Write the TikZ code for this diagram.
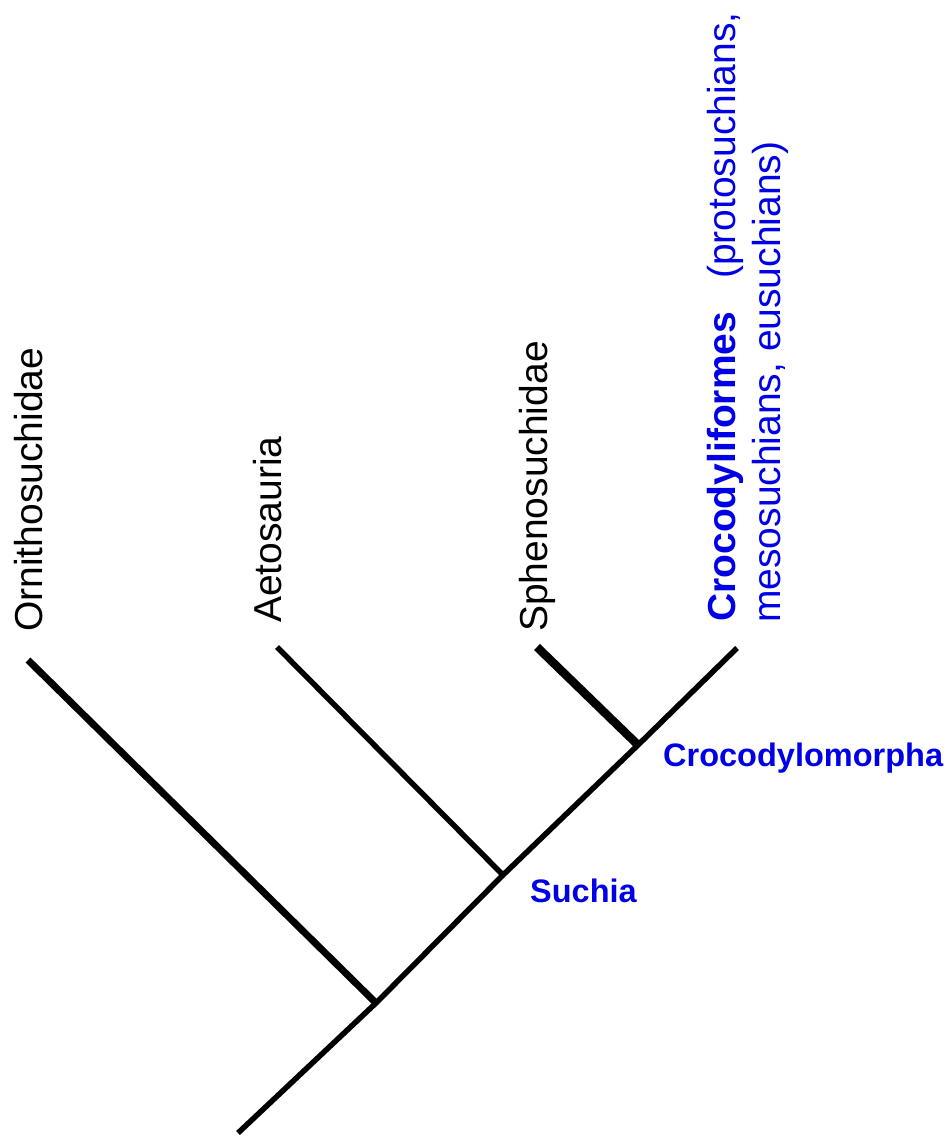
\documentclass[tikz,border=0pt]{standalone}
\usepackage{fontspec}
\setmainfont{Liberation Sans}
\definecolor{cladeblue}{RGB}{0,0,230}
\begin{document}
\begin{tikzpicture}[x=1pt,y=-1pt,
  branch/.style={line width=5.5pt,black},
  thickbranch/.style={line width=7pt,black},
  taxon/.style={rotate=90,anchor=base west,inner sep=0pt,font=\fontsize{39}{45}\selectfont},
  crown/.style={taxon,text=cladeblue},
  clade/.style={anchor=base west,inner sep=0pt,text=cladeblue,font=\fontsize{32.5}{38}\selectfont\bfseries}]
\useasboundingbox (0,0) rectangle (946,1144);
% nodes of the tree
\coordinate (root) at (238,1133);
\coordinate (n1) at (376,1003);
\coordinate (n2) at (503,875);
\coordinate (n3) at (638,745);
\coordinate (tOrn) at (28,660);
\coordinate (tAet) at (277,647);
\coordinate (tSph) at (537,647);
\coordinate (tCro) at (737,648);
% branches
\draw[branch] (root) -- (n1) -- (n2) -- (n3) -- (tCro);
\draw[thickbranch] (tOrn) -- (n1);
\draw[branch] (tAet) -- (n2);
\draw[line width=8.5pt] (tSph) -- (n3);
% taxon labels
\node[taxon] (lOrn) at (42,632) {Ornithosuchidae};
\node[taxon] (lAet) at (281,623) {Aetosauria};
\node[taxon] (lSph) at (547,632) {Sphenosuchidae};
\node[crown] (lCro1) at (735,622) {\textbf{Crocodyliformes}\hspace{33pt}(protosuchians,};
\node[crown] (lCro2) at (780,623) {mesosuchians, eusuchians)};
% clade labels
\node[clade] (lCrm) at (663,766) {Crocodylomorpha};
\node[clade] (lSuc) at (530,902) {Suchia};
\end{tikzpicture}
\end{document}
